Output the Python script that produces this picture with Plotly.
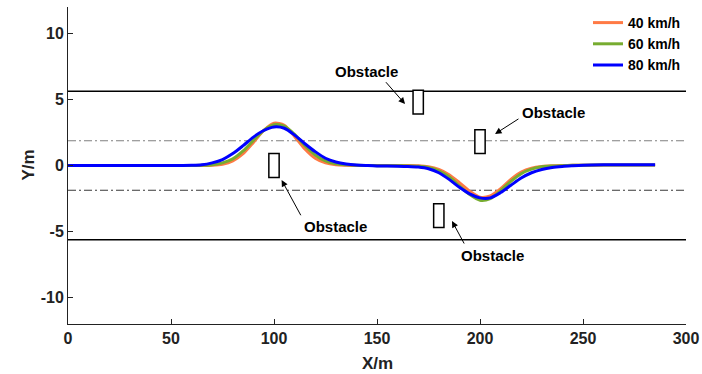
import plotly.graph_objects as go

# ---- data ----
x_pts = [0, 55, 60, 65, 70, 75, 80, 85, 90, 95, 100, 105, 110, 115, 120, 125, 130, 135, 140, 145,
         150, 160, 165, 170, 175, 180, 185, 190, 195, 200, 205, 210, 215, 220, 225, 230, 235, 240,
         245, 250, 260, 285]
y_40 = [0, 0, 0, 0, 0.02, 0.1, 0.35, 0.9, 1.75, 2.65, 3.2, 3.05, 2.2, 1.25, 0.55, 0.2, 0.06, 0.02, 0, 0,
        0, 0, 0, -0.02, -0.1, -0.3, -0.7, -1.3, -1.95, -2.4, -2.3, -1.75, -1.05, -0.5, -0.2, -0.07, -0.02, 0,
        0.01, 0.02, 0.03, 0.03]
y_60 = [0, 0, 0, 0.01, 0.05, 0.2, 0.5, 1.1, 1.9, 2.65, 3.08, 2.98, 2.35, 1.5, 0.8, 0.35, 0.13, 0.05, 0.01, 0,
        -0.01, -0.02, -0.03, -0.05, -0.15, -0.4, -0.85, -1.55, -2.2, -2.63, -2.5, -1.9, -1.2, -0.62, -0.28, -0.1, -0.04, -0.01,
        0.01, 0.02, 0.04, 0.04]
y_80 = [0, 0, 0.01, 0.05, 0.2, 0.45, 0.9, 1.5, 2.15, 2.65, 2.92, 2.82, 2.3, 1.65, 1.05, 0.55, 0.27, 0.12, 0.04, 0,
        -0.03, -0.05, -0.07, -0.12, -0.25, -0.55, -1.05, -1.65, -2.15, -2.45, -2.45, -2.05, -1.5, -0.95, -0.55, -0.3, -0.15, -0.07,
        -0.02, 0.02, 0.05, 0.05]
series_names = ["40 km/h", "60 km/h", "80 km/h"]
series_colors = ["#FF7A45", "#77AC30", "#0000FF"]

x_tick_vals = [0, 50, 100, 150, 200, 250, 300]
x_tick_text = ["0", "50", "100", "150", "200", "250", "300"]
y_tick_vals = [-10, -5, 0, 5, 10]
y_tick_text = ["-10", "-5", "0", "5", "10"]
x_title = "X/m"
y_title = "Y/m"

lane_edges = [5.625, -5.625]
lane_dividers = [1.875, -1.875]

obs_cx = [100, 170, 200, 180]
obs_cy = [0, 4.8, 1.8, -3.8]
obs_len = 5
obs_wid = 1.8

# label text positions, arrow tails and heads
lab_x = [145, 235.5, 130, 206]
lab_y = [7.15, 4.05, -4.6, -6.8]
arr_tail_x = [153.7, 219.4, 113.4, 192.7]
arr_tail_y = [6.42, 3.6, -3.88, -6.02]
arr_head_x = [163.6, 207.3, 103.7, 186.4]
arr_head_y = [4.66, 2.39, -1.1, -4.2]

FONT = "Liberation Sans, Arial, sans-serif"

fig = go.Figure()

# road lines
for yv in lane_edges:
    fig.add_trace(go.Scatter(x=[0, 300], y=[yv, yv], mode="lines",
                             line=dict(color="black", width=1.5), showlegend=False, hoverinfo="skip"))
for yv, c in zip(lane_dividers, ["#808080", "#3A3A3A"]):
    fig.add_trace(go.Scatter(x=[0, 300], y=[yv, yv], mode="lines",
                             line=dict(color=c, width=1.2, dash="8px,3px,2px,3px"),
                             showlegend=False, hoverinfo="skip"))

# trajectories
for ys, nm, col in zip([y_40, y_60, y_80], series_names, series_colors):
    fig.add_trace(go.Scatter(x=x_pts, y=ys, mode="lines", name=nm,
                             line=dict(color=col, width=3, shape="spline", smoothing=0.8)))

# obstacles
for cx, cy in zip(obs_cx, obs_cy):
    fig.add_shape(type="rect", xref="x", yref="y",
                  x0=cx - obs_len / 2, x1=cx + obs_len / 2,
                  y0=cy - obs_wid / 2, y1=cy + obs_wid / 2,
                  line=dict(color="black", width=1.5), fillcolor="white")

# labels and arrows
for lx, ly in zip(lab_x, lab_y):
    fig.add_annotation(x=lx, y=ly, xref="x", yref="y", text="<b>Obstacle</b>",
                       showarrow=False, font=dict(family=FONT, size=15, color="black"))
for tx, ty, hx, hy in zip(arr_tail_x, arr_tail_y, arr_head_x, arr_head_y):
    fig.add_annotation(x=hx, y=hy, ax=tx, ay=ty, xref="x", yref="y", axref="x", ayref="y",
                       text="", showarrow=True, arrowhead=2, arrowsize=1.3, arrowwidth=1,
                       arrowcolor="black")

# axis titles
fig.add_annotation(x=0.5016, y=-0.126, xref="paper", yref="paper", text="<b>" + x_title + "</b>",
                   showarrow=False, xanchor="center", yanchor="middle",
                   font=dict(family=FONT, size=17, color="#222"))
fig.add_annotation(x=-0.0647, y=0.5, xref="paper", yref="paper", text="<b>" + y_title + "</b>",
                   showarrow=False, xanchor="center", yanchor="middle", textangle=-90,
                   font=dict(family=FONT, size=17, color="#222"))

fig.update_layout(
    width=702, height=374,
    margin=dict(l=68, r=16, t=7, b=50),
    paper_bgcolor="white", plot_bgcolor="white",
    font=dict(family=FONT, size=15, color="#222"),
    legend=dict(x=1.0, y=1.0, xanchor="right", yanchor="top",
                bgcolor="rgba(0,0,0,0)", borderwidth=0,
                font=dict(family=FONT, size=14, color="black", weight="bold"),
                itemwidth=30, tracegroupgap=0),
    xaxis=dict(range=[0, 300], tickvals=x_tick_vals, ticktext=x_tick_text, showline=True,
               linecolor="#222", automargin=False,
               linewidth=1, ticks="inside", ticklen=5, tickcolor="#222", showgrid=False,
               zeroline=False, mirror=False,
               tickfont=dict(family=FONT, size=16, color="#222", weight="bold")),
    yaxis=dict(range=[-12, 12], tickvals=y_tick_vals, ticktext=y_tick_text, showline=True,
               linecolor="#222", automargin=False,
               linewidth=1, ticks="inside", ticklen=5, tickcolor="#222", showgrid=False,
               zeroline=False, mirror=False,
               tickfont=dict(family=FONT, size=16, color="#222", weight="bold")),
)

fig.write_html("out.html")
